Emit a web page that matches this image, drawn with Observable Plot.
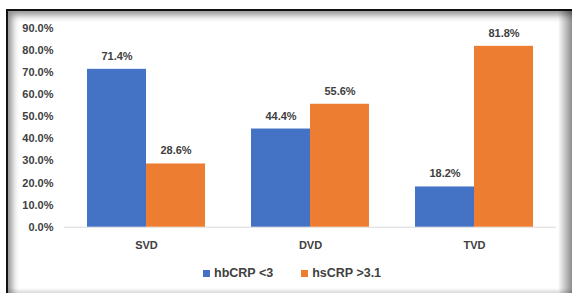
<!DOCTYPE html>
<html><head><meta charset="utf-8">
<script src="https://cdn.jsdelivr.net/npm/d3@7"></script>
<script src="https://cdn.jsdelivr.net/npm/@observablehq/plot@0.6"></script>
<style>
body{margin:0;background:#fff;}
#wrap{position:relative;width:572px;height:293px;overflow:hidden;background:#fff;font-family:"Liberation Sans",Arial,sans-serif;}
#frame{position:absolute;left:6px;top:9px;width:580px;height:300px;border-left:2px solid #111;border-top:2px solid #111;box-shadow:inset 4px 4px 7px rgba(0,0,0,0.45);}
#rshade{position:absolute;left:558px;top:9px;width:14px;height:284px;background:linear-gradient(to right,rgba(0,0,0,0),rgba(0,0,0,0.45));}
#bshade{position:absolute;left:6px;top:288px;width:566px;height:5px;background:linear-gradient(to bottom,rgba(0,0,0,0),rgba(0,0,0,0.15));}
#chart{position:absolute;left:0;top:0;}
#legend{position:absolute;left:203px;top:266px;display:flex;align-items:center;font-size:12.5px;font-weight:bold;color:#404040;}
.sw{display:inline-block;width:7px;height:7px;margin-right:4px;}
.item{display:flex;align-items:center;margin-right:28px;}
</style></head>
<body>
<div id="wrap">
<div id="frame"></div>
<div id="rshade"></div>
<div id="bshade"></div>
<div id="chart"></div>
<div id="legend"></div>
</div>
<script>
const groups = ["SVD", "DVD", "TVD"];
const series = ["hbCRP <3", "hsCRP >3.1"];
const hbValues = [71.4, 44.4, 18.2];
const hsValues = [28.6, 55.6, 81.8];
const yTicks = [0, 10, 20, 30, 40, 50, 60, 70, 80, 90];
const colors = ["#4472C4", "#ED7D31"];

const data = groups.flatMap((g, i) => [
  {group: g, series: series[0], value: hbValues[i]},
  {group: g, series: series[1], value: hsValues[i]}
]);

const chart = Plot.plot({
  width: 572,
  height: 260,
  marginLeft: 63,
  marginRight: 15,
  marginTop: 27.7,
  marginBottom: 33.3,
  fx: {domain: groups, padding: 0, label: null, axis: "bottom", tickSize: 0, tickPadding: 14},
  x: {domain: series, axis: null, paddingInner: 0, paddingOuter: 0.372},
  y: {domain: [0, 90], ticks: yTicks, tickFormat: d => d.toFixed(1) + "%", label: null, tickSize: 0, tickPadding: 11},
  color: {domain: series, range: colors},
  style: {fontFamily: "'Liberation Sans', Arial, sans-serif", fontSize: "11px", fontWeight: "bold", color: "#404040", background: "transparent"},
  marks: [
    Plot.ruleY([0], {stroke: "#d9d9d9", strokeWidth: 1}),
    Plot.barY(data, {fx: "group", x: "series", y: "value", fill: "series"}),
    Plot.text(data, {fx: "group", x: "series", y: "value", text: d => d.value.toFixed(1) + "%", dy: -13, fill: "#404040"})
  ]
});
document.getElementById("chart").appendChild(chart);

const legend = document.getElementById("legend");
series.forEach((s, i) => {
  const item = document.createElement("div");
  item.className = "item";
  const sw = document.createElement("span");
  sw.className = "sw";
  sw.style.background = colors[i];
  item.appendChild(sw);
  item.appendChild(document.createTextNode(s));
  legend.appendChild(item);
});
</script>
</body></html>
